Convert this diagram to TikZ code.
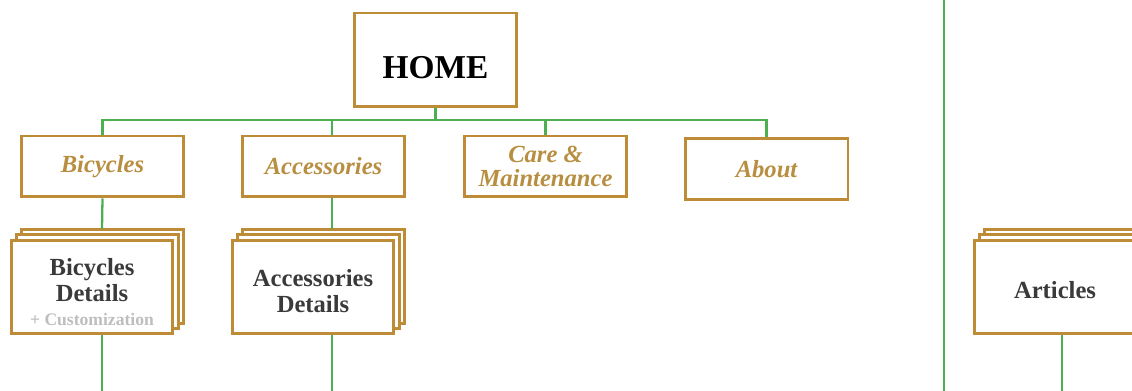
\documentclass[tikz,border=0pt]{standalone}
\usepackage{fontspec}
\setmainfont{Liberation Serif}
\usetikzlibrary{positioning}
\usetikzlibrary{shadows}
\definecolor{goldline}{RGB}{190,140,55}
\definecolor{goldtext}{RGB}{184,142,64}
\definecolor{linkgreen}{RGB}{76,176,80}
\definecolor{darktext}{RGB}{58,58,58}
\definecolor{subtext}{RGB}{190,190,190}

\begin{document}
\begin{tikzpicture}[x=0.02cm, y=-0.02cm,
  box/.style={draw=goldline, line width=1.7pt, fill=white, align=center, inner sep=0pt},
  menubox/.style={box, minimum width=3.26cm, minimum height=1.22cm, text=goldtext,
    font=\bfseries\itshape\fontsize{14}{14}\selectfont},
  stackbox/.style={box, minimum width=3.24cm, minimum height=1.88cm, text=darktext,
    font=\bfseries\fontsize{14}{14.8}\selectfont,
    double copy shadow={shadow xshift=3.1pt, shadow yshift=3.1pt}},
  link/.style={draw=linkgreen, line width=1.3pt}]
\useasboundingbox (0,0) rectangle (1132,391);
\clip (0,0) rectangle (1132,391);
% top level
\node[box, minimum width=3.26cm, minimum height=1.88cm, font=\bfseries\fontsize{19}{19}\selectfont] (home) at (435.5,60) {\raisebox{-4pt}[\height][0pt]{HOME}};
\node[menubox] (bicycles) at (102.5,166.5) {Bicycles};
\node[menubox] (accessories) at (323.5,166.5) {Accessories};
\node[menubox] (care) at (545.5,166.5) {Care \&\\Maintenance};
\node[menubox] (about) at (766.5,169) {About};
\coordinate (bus) at (435.5,120);
% detail pages
\node[stackbox] (bikedetails) at (92,287) {\rule{0pt}{15.5pt}Bicycles\\Details\\[-1.5pt]{\fontsize{10}{10}\selectfont\color{subtext}+ Customization}};
\node[stackbox] (accdetails) at (313,287) {\rule{0pt}{14pt}Accessories\\Details};
\node[stackbox] (articles) at (1055,287) {\rule{0pt}{13.5pt}Articles};
\coordinate (bikestack) at (102,229);
\coordinate (accstack) at (332,229);
\coordinate (bikeend) at (102,391);
\coordinate (accend) at (332,391);
\coordinate (artend) at (1062,391);
\coordinate (divtop) at (944,0);
\coordinate (divbot) at (944,391);

\draw[link] (home.south) -- (home.south |- bus);
\draw[link] (bicycles.north) |- (bus) -| (about.north);
\draw[link] (care.north) -- (care.north |- bus);
\draw[link] (accstack |- accessories.north) -- (accstack |- bus);
\draw[link] (bicycles.south) -- (bikestack);
\draw[link] (accstack |- accessories.south) -- (accstack);
\draw[link] (bikeend |- bikedetails.south) -- (bikeend);
\draw[link] (accend |- accdetails.south) -- (accend);
\draw[link] (artend |- articles.south) -- (artend);
\draw[link] (divtop) -- (divbot);
\end{tikzpicture}
\end{document}
